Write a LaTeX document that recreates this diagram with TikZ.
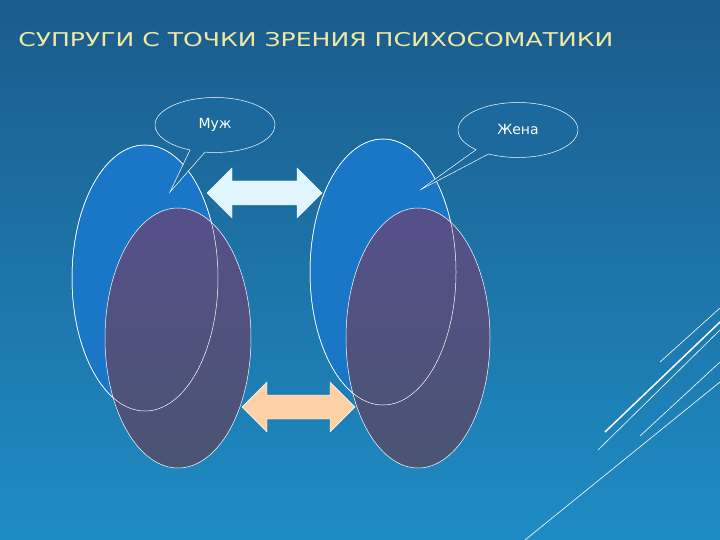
\documentclass[tikz,border=0pt]{standalone}
\usepackage{fontspec}
\setmainfont{DejaVu Sans}
\usetikzlibrary{shapes.callouts}
\definecolor{bgtop}{HTML}{1B5C8C}
\definecolor{bgbot}{HTML}{1E8CC4}
\definecolor{blueov}{HTML}{1A76C6}
\definecolor{purpov}{HTML}{56508A}
\definecolor{purpbot}{HTML}{4A5472}
\definecolor{titlec}{HTML}{F2E9A0}
\begin{document}
\begin{tikzpicture}[x=1pt,y=-1pt,
  oval/.style={draw=white,line width=0.5pt},
  bubble/.style={ellipse callout,draw=white,fill=bgtop!70!bgbot,line width=0.5pt,minimum width=120pt,minimum height=55pt,inner sep=0pt,font=\fontsize{14}{16}\selectfont,text=white},
  deco/.style={draw=white,line width=0.6pt}]
\useasboundingbox (0,0) rectangle (720,540);
\shade[top color=bgtop,bottom color=bgbot] (0,0) rectangle (720,540);
\node[anchor=west,text=titlec,font=\fontsize{19}{22}\selectfont,xscale=1.32,inner sep=0pt] (title) at (18,40) {СУПРУГИ С ТОЧКИ ЗРЕНИЯ ПСИХОСОМАТИКИ};
% ovals
\path[oval,fill=blueov] (145,278) ellipse [x radius=73,y radius=133];
\path[oval,top color=purpov,bottom color=purpbot] (178,338) ellipse [x radius=73,y radius=130];
\draw[oval] (145,278) ellipse [x radius=73,y radius=133];
\path[oval,fill=blueov] (383,272) ellipse [x radius=73,y radius=133];
\path[oval,top color=purpov,bottom color=purpbot] (418,338) ellipse [x radius=72,y radius=130];
\draw[oval] (383,272) ellipse [x radius=73,y radius=133];
% callouts
\coordinate (pm) at (170,192);
\coordinate (pw) at (420,190);
\node[bubble,callout absolute pointer={(pm)}] (muzh) at (215,125) {\raisebox{4pt}{Муж}};
\node[bubble,callout absolute pointer={(pw)}] (zhena) at (518,130) {\raisebox{2pt}{Жена}};
% arrows
\fill[fill=cyan!12,draw=white] (207,193) -- (232,168) -- (232,181) -- (297,181) -- (297,168) -- (322,193) -- (297,218) -- (297,205) -- (232,205) -- (232,218) -- cycle;
\fill[fill=orange!35!white,draw=white] (242,407) -- (267,382) -- (267,395) -- (330,395) -- (330,382) -- (355,407) -- (330,432) -- (330,419) -- (267,419) -- (267,432) -- cycle;
% decorative lines
\draw[deco] (525,540) -- (720,382);
\draw[deco] (598,450) -- (720,330);
\draw[deco,line width=1.5pt] (605,432) -- (720,322);
\draw[deco] (640,436) -- (720,362);
\draw[deco] (660,362) -- (720,308);
\end{tikzpicture}
\end{document}
